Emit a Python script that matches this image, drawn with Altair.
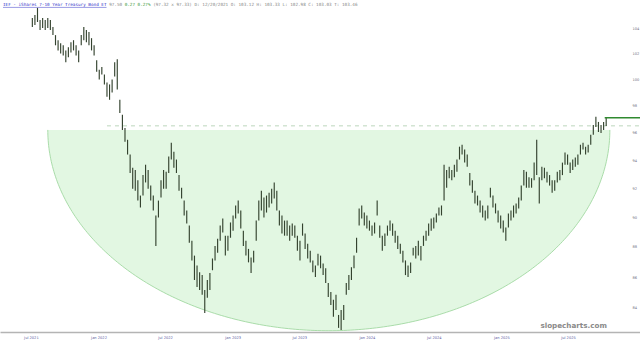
import altair as alt
import pandas as pd
import numpy as np

# ---- weekly price bars (IEF, adjusted) ----
week_start = "2021-07-05"
highs = [104.80, 105.05, 105.61, 104.64, 104.80, 104.64, 104.80, 104.64, 104.08, 103.44,
         103.04, 102.80, 102.64, 102.24, 102.48, 102.88, 103.04, 102.64, 102.24, 103.44,
         104.08, 103.84, 103.68, 103.20, 102.64, 101.48, 100.74, 100.96, 100.37, 99.77,
         99.62, 100.00, 101.33, 101.56, 98.46, 97.34, 96.37, 95.50, 94.43, 93.48,
         93.33, 92.59, 91.52, 92.96, 93.70, 93.33, 92.22, 91.52, 90.14, 91.17,
         92.59, 93.33, 93.19, 94.29, 95.29, 94.64, 94.07, 92.96, 92.07, 91.17,
         90.48, 89.45, 88.41, 87.42, 86.77, 86.32, 86.13, 85.16, 85.81, 86.26,
         87.23, 88.07, 88.55, 89.45, 89.93, 88.76, 88.76, 89.66, 90.14, 90.83,
         91.17, 90.48, 89.10, 88.41, 87.87, 87.29, 87.74, 89.79, 91.17, 91.86,
         91.38, 91.52, 91.72, 92.00, 92.44, 91.86, 90.48, 90.14, 89.79, 89.79,
         89.45, 89.59, 89.45, 88.76, 88.41, 89.59, 88.90, 88.21, 87.74, 87.10,
         86.77, 87.55, 87.42, 86.90, 86.58, 85.61, 85.03, 84.52, 84.84, 83.55,
         83.87, 84.19, 85.61, 86.13, 86.65, 87.42, 88.62, 90.62, 90.83, 90.34,
         90.14, 89.79, 89.45, 89.66, 91.17, 89.45, 88.76, 88.90, 89.45, 89.79,
         89.59, 89.10, 88.76, 88.21, 87.74, 87.10, 86.77, 86.97, 87.94, 88.07,
         88.41, 88.07, 88.76, 89.10, 89.59, 89.93, 90.00, 90.28, 90.69, 90.83,
         93.70, 93.33, 93.56, 93.33, 93.70, 94.07, 95.00, 95.14, 94.79, 94.43,
         93.11, 92.59, 91.86, 91.52, 91.17, 90.83, 90.48, 90.83, 92.07, 91.52,
         90.97, 90.48, 90.14, 89.79, 89.31, 90.28, 90.48, 90.83, 90.97, 91.38,
         92.22, 93.33, 93.19, 92.81, 92.74, 93.85, 95.50, 92.81, 93.56, 93.48,
         93.19, 92.96, 92.59, 92.59, 93.19, 93.33, 93.85, 94.57, 94.43, 93.85,
         94.07, 94.21, 94.43, 95.14, 95.29, 95.00, 95.14, 95.86, 96.59, 97.19,
         96.81, 96.59, 96.81, 97.11]
lows = [104.08, 104.24, 104.48, 103.84, 104.00, 103.84, 104.00, 103.84, 103.44, 102.64,
        102.24, 102.00, 101.85, 101.33, 101.70, 102.08, 102.24, 101.85, 101.33, 102.64,
        103.04, 102.88, 102.64, 102.24, 101.85, 100.59, 100.00, 100.37, 99.62, 98.69,
        98.46, 99.00, 100.22, 99.23, 97.48, 96.22, 95.36, 94.43, 93.11, 92.00,
        91.86, 91.17, 90.69, 91.52, 92.44, 92.00, 91.17, 90.48, 88.07, 90.00,
        91.38, 92.00, 92.00, 93.11, 94.07, 93.48, 93.11, 91.86, 91.31, 90.14,
        89.59, 88.28, 87.10, 85.81, 85.35, 85.16, 84.84, 83.68, 84.65, 85.16,
        86.45, 87.10, 87.61, 88.41, 88.97, 87.42, 87.74, 88.62, 89.10, 89.93,
        90.28, 89.24, 88.07, 87.42, 86.97, 86.26, 86.97, 88.41, 89.79, 90.48,
        90.00, 90.34, 90.69, 90.97, 91.31, 90.48, 89.45, 88.90, 88.76, 88.76,
        88.41, 88.76, 88.62, 87.74, 87.10, 88.76, 87.87, 87.23, 86.97, 86.32,
        86.00, 86.77, 86.58, 86.13, 85.61, 84.71, 84.19, 83.43, 83.87, 82.73,
        82.60, 83.23, 84.84, 85.16, 85.81, 86.58, 87.61, 89.45, 89.93, 89.45,
        89.24, 89.10, 88.76, 88.90, 90.14, 88.62, 87.74, 88.07, 88.76, 89.10,
        88.76, 88.28, 87.87, 87.55, 86.97, 86.13, 86.00, 86.26, 87.42, 87.23,
        87.42, 87.10, 88.07, 88.41, 88.76, 89.10, 89.24, 89.66, 90.14, 90.14,
        91.17, 92.07, 92.74, 92.59, 92.81, 93.19, 94.07, 94.43, 93.85, 93.56,
        92.22, 91.72, 90.97, 90.83, 90.34, 90.00, 89.79, 89.93, 91.38, 90.69,
        90.28, 89.66, 89.24, 88.97, 88.41, 89.31, 89.79, 90.00, 90.28, 90.62,
        91.17, 92.22, 92.07, 92.07, 92.07, 92.59, 92.96, 90.97, 92.59, 92.74,
        92.44, 92.22, 91.72, 91.86, 92.44, 92.59, 92.96, 93.70, 93.70, 93.11,
        93.33, 93.56, 93.70, 94.43, 94.79, 94.43, 94.57, 95.14, 95.86, 96.44,
        96.07, 96.00, 96.22, 96.51]

# ---- axes ----
x_domain = [(2021, 4, 8), (2026, 1, 13)]
y_domain = [82.47, 106.25]
tick_dates = [(2021, 7, 1), (2022, 1, 1), (2022, 7, 1), (2023, 1, 1), (2023, 7, 1),
              (2024, 1, 1), (2024, 7, 1), (2025, 1, 1), (2025, 7, 1)]
price_ticks = [84, 86, 88, 90, 92, 94, 96, 98, 100, 102, 104]

# ---- annotations ----
bowl_start = "2021-08-16"
bowl_end = "2025-10-23"
bowl_rim = 96.22
bowl_bottom = 82.55
dash_level = 96.52
dash_start = "2022-01-24"
dash_end = "2026-01-13"
last_price = 97.11
last_start = "2025-10-09"

title_name = "IEF - iShares 7-10 Year Treasury Bond ET"
title_last = "97.50"
title_chg = "0.27 0.27%"
title_rest = "(97.32 x 97.33) D: 12/20/2021 O: 103.12 H: 103.33 L: 102.98 C: 103.03 T: 103.46"
watermark = "slopecharts.com"

# ---------------------------------------------------------------
bars = pd.DataFrame({
    "date": pd.date_range(week_start, periods=len(highs), freq="7D"),
    "high": highs,
    "low": lows,
})

# bowl geometry (half ellipse in date / log-price space)
t = np.linspace(0, np.pi, 241)
s0 = pd.Timestamp(bowl_start)
span = (pd.Timestamp(bowl_end) - s0).total_seconds()
frac = (1 - np.cos(t)) / 2
bowl = pd.DataFrame({
    "date": [s0 + pd.Timedelta(seconds=float(f * span)) for f in frac],
    "price": np.exp(np.log(bowl_rim) - (np.log(bowl_rim) - np.log(bowl_bottom)) * np.sin(t)),
    "rim": bowl_rim,
})

dt = lambda d: alt.DateTime(year=d[0], month=d[1], date=d[2])
xscale = alt.Scale(domain=[dt(x_domain[0]), dt(x_domain[1])], nice=False)
yscale = alt.Scale(type="log", domain=y_domain, nice=False, zero=False)

xaxis = alt.Axis(values=[dt(d) for d in tick_dates], format="%b %Y", title=None,
                 labelFontSize=3.6, labelColor="#5a5aa0", labelFont="DejaVu Sans",
                 ticks=False, grid=False, domainColor="#b4b4b4", domainWidth=1.6,
                 labelPadding=3, labelFlush=False)
yaxis = alt.Axis(values=price_ticks, title=None, orient="right", offset=-9,
                 labelFontSize=3.6, labelColor="#707080", labelFont="DejaVu Sans",
                 ticks=False, grid=False, domain=False, labelPadding=1, format="d")

X = lambda f: alt.X(f, type="temporal", scale=xscale, axis=xaxis)
Y = lambda f: alt.Y(f, type="quantitative", scale=yscale, axis=yaxis)

bowl_fill = alt.Chart(bowl).mark_area(color="#e2f7e2", opacity=1).encode(
    x=X("date"), y=Y("price"), y2="rim")
bowl_edge = alt.Chart(bowl).mark_line(color="#a2d8a2", strokeWidth=0.9).encode(
    x=X("date"), y=Y("price"))

dash = alt.Chart(pd.DataFrame({"s": [dash_start], "e": [dash_end], "p": [dash_level]})).mark_rule(
    color="#bcd6bc", strokeDash=[4, 4], strokeWidth=1).encode(
    x=X("s"), x2="e", y=Y("p"))

price_bars = alt.Chart(bars).mark_rule(color="#34432f", strokeWidth=1.15).encode(
    x=X("date"), y=Y("low"), y2="high")

last_line = alt.Chart(pd.DataFrame({"s": [last_start], "e": [dash_end], "p": [last_price]})).mark_rule(
    color="#2f8a2f", strokeWidth=1.5).encode(x=X("s"), x2="e", y=Y("p"))

def label(txt, x, color, weight="normal", font="DejaVu Sans Mono", size=4.3, y=5):
    return alt.Chart(pd.DataFrame({"t": [txt]})).mark_text(
        align="left", baseline="middle", font=font, fontSize=size, color=color,
        fontWeight=weight).encode(x=alt.value(x), y=alt.value(y), text="t:N")

cw = 4.3 * 0.602
t1 = label(title_name, 3, "#3434c8")
underline = alt.Chart(pd.DataFrame({"a": [0]})).mark_rule(color="#3434c8", strokeWidth=0.5).encode(
    x=alt.value(3), x2=alt.value(3 + cw * len(title_name)), y=alt.value(7.4))
x2 = 3 + cw * (len(title_name) + 1)
t2 = label(title_last, x2, "#888888")
x3 = x2 + cw * (len(title_last) + 1)
t3 = label(title_chg, x3, "#3a9a3a")
x4 = x3 + cw * (len(title_chg) + 1)
t4 = label(title_rest, x4, "#888888")

wm = alt.Chart(pd.DataFrame({"t": [watermark]})).mark_text(
    align="right", baseline="middle", font="DejaVu Sans", fontSize=7.2, fontWeight="bold",
    color="#8a8a8a").encode(x=alt.value(607), y=alt.value(326), text="t:N")

chart = alt.layer(bowl_fill, bowl_edge, dash, price_bars, last_line,
                  t1, underline, t2, t3, t4, wm).properties(
    width=640, height=332,
    autosize=alt.AutoSizeParams(type="none"),
    padding={"left": 0, "top": 0, "right": 0, "bottom": 11},
    background="white",
).configure_view(stroke=None)

chart.save("out.html", embed_options={"renderer": "svg", "actions": False})
